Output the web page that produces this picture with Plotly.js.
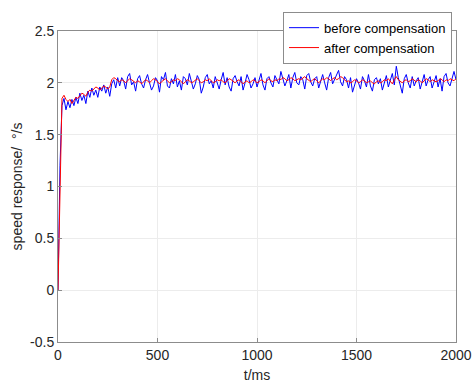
<!DOCTYPE html>
<html>
<head>
<meta charset="utf-8">
<script src="https://cdn.plot.ly/plotly-3.0.1.min.js"></script>
<style>html,body{margin:0;padding:0;background:#fff;}#chart{width:472px;height:383px;}</style>
</head>
<body>
<div id="chart"></div>
<script>
var blueStart = [0, 1.2, 1.78, 1.85, 1.74, 1.82, 1.76, 1.84, 1.78, 1.86,
  1.80, 1.90, 1.83, 1.88, 1.80, 1.92, 1.86, 1.95, 1.88, 1.93,
  1.86, 1.96, 1.92, 1.98, 1.90, 1.96, 1.87, 1.99, 2.03, 1.95, 2.05];
var blueRest = [
  1.97, 2.05, 2.02, 1.94, 2.06, 2.09, 1.98, 2.01, 1.92, 2.04,
  2.07, 1.99, 1.95, 2.03, 2.08, 2.00, 1.93, 1.97, 2.05, 2.02,
  1.91, 2.06, 2.03, 2.10, 1.97, 1.95, 2.04, 1.99, 2.08, 1.96,
  2.02, 1.93, 2.06, 2.04, 1.98, 2.09, 2.01, 1.94, 1.99, 2.07,
  2.03, 1.90, 1.96, 2.05, 2.08, 1.99, 2.02, 1.95, 2.06, 2.00,
  1.94, 2.03, 2.10, 1.98, 2.05, 1.96, 1.92, 2.04, 2.07, 2.01,
  1.97, 2.06, 1.93, 2.00, 2.08, 2.03, 1.95, 1.99, 2.05, 1.96,
  2.02, 2.09, 1.98, 1.93, 2.04, 2.06, 2.00, 1.96, 2.07, 2.03,
  1.99, 2.11, 2.04, 1.97, 2.02, 2.08, 1.95, 2.05, 2.10, 2.00,
  1.98, 2.06, 2.03, 1.94, 2.07, 2.09, 2.01, 1.97, 2.04, 2.06,
  1.95, 2.02, 2.08, 2.00, 1.93, 2.05, 2.10, 1.99, 2.04, 2.07,
  2.12, 2.01, 1.97, 2.06, 2.03, 1.95, 2.05, 1.91, 1.98, 2.04,
  2.00, 1.94, 2.06, 2.02, 1.96, 2.08, 1.97, 1.92, 2.03, 2.05,
  1.99, 2.04, 1.93, 2.01, 2.07, 1.96, 2.03, 2.09, 1.98, 2.16,
  2.05, 1.96, 1.90, 2.04, 2.08, 2.00, 1.95, 2.06, 1.97, 2.02,
  2.05, 1.94, 2.00, 2.08, 1.97, 2.03, 2.06, 1.95, 2.01, 2.07,
  1.96, 2.04, 1.92, 2.06, 2.09, 2.00, 1.97, 2.05, 2.11, 2.03];
var redStart = [0, 1.1, 1.85, 1.88, 1.84, 1.82, 1.84, 1.80, 1.83, 1.86,
  1.85, 1.88, 1.90, 1.89, 1.87, 1.91, 1.93, 1.92, 1.94, 1.96,
  1.95, 1.93, 1.95, 1.97, 1.96, 1.94, 1.96, 2.03, 2.05, 2.04, 2.02];
var redRest = [
  2.01, 2.03, 2.02, 2.00, 2.02, 2.04, 2.03, 2.01, 2.00, 2.02,
  2.01, 1.99, 2.01, 2.03, 2.02, 2.00, 2.02, 2.04, 2.03, 2.01,
  1.99, 2.01, 2.03, 2.04, 2.02, 2.00, 2.01, 2.03, 2.02, 2.04,
  2.03, 2.01, 1.99, 2.01, 2.03, 2.02, 2.00, 2.01, 2.03, 2.04,
  2.02, 2.00, 2.01, 2.03, 2.02, 2.04, 2.02, 2.00, 2.01, 2.03,
  2.02, 2.03, 2.01, 2.00, 2.02, 2.04, 2.03, 2.01, 2.00, 2.02,
  2.03, 2.01, 1.99, 2.01, 2.02, 2.00, 2.01, 2.03, 2.02, 2.00,
  2.01, 2.03, 2.02, 2.00, 2.02, 2.04, 2.02, 2.01, 2.03, 2.02,
  2.04, 2.03, 2.05, 2.04, 2.02, 2.03, 2.05, 2.04, 2.02, 2.03,
  2.04, 2.03, 2.05, 2.06, 2.04, 2.02, 2.01, 2.03, 2.04, 2.02,
  2.00, 2.02, 2.04, 2.03, 2.05, 2.04, 2.02, 2.04, 2.05, 2.03,
  2.04, 2.06, 2.05, 2.03, 2.01, 2.02, 2.00, 2.01, 2.03, 2.02,
  2.00, 2.01, 2.03, 2.02, 2.00, 2.01, 2.02, 2.00, 1.99, 2.01,
  2.02, 2.00, 2.01, 2.03, 2.02, 2.04, 2.01, 1.99, 2.03, 2.06,
  2.03, 2.01, 2.00, 2.02, 2.03, 2.01, 2.02, 2.04, 2.02, 2.01,
  2.03, 2.02, 2.00, 2.02, 2.04, 2.03, 2.01, 2.03, 2.02, 2.01,
  2.02, 2.04, 2.03, 2.01, 2.03, 2.02, 2.04, 2.03, 2.02, 2.04];
var before = blueStart.concat(blueRest);
var after = redStart.concat(redRest);
var sampleMs = 10;
var time = before.map(function (_, i) { return i * sampleMs; });
var xTicks = [0, 500, 1000, 1500, 2000];
var yTicks = [-0.5, 0, 0.5, 1, 1.5, 2, 2.5];
var yTickText = ['-0.5', '0', '0.5', '1', '1.5', '2', '2.5'];

var traces = [
  {x: time, y: before, type: 'scatter', mode: 'lines', name: 'before compensation',
   line: {color: '#0000ff', width: 1}},
  {x: time, y: after, type: 'scatter', mode: 'lines', name: 'after compensation',
   line: {color: '#ff0000', width: 1}}
];
var axisCommon = {
  showline: true, mirror: true, linecolor: '#8c8c8c', linewidth: 1,
  showgrid: true, gridcolor: '#ececec', gridwidth: 1,
  ticks: 'inside', ticklen: 4, tickcolor: '#8c8c8c',
  zeroline: false, ticklabeloverflow: 'allow',
  tickfont: {size: 14, color: '#262626'}
};
var layout = {
  width: 472, height: 383,
  margin: {l: 58, r: 16, t: 28, b: 41},
  paper_bgcolor: '#ffffff', plot_bgcolor: '#ffffff',
  font: {family: 'Liberation Sans, Arial, sans-serif', size: 14, color: '#262626'},
  showlegend: true,
  legend: {x: 0.99, xanchor: 'right', y: 1.062, yanchor: 'top',
    bgcolor: '#ffffff', bordercolor: '#8c8c8c', borderwidth: 1,
    font: {size: 13, color: '#000000'}, tracegroupgap: 0},
  xaxis: Object.assign({}, axisCommon, {
    range: [0, 2000], tickvals: xTicks, ticktext: xTicks.map(String),
    title: {text: 't/ms', standoff: 8, font: {size: 14, color: '#262626'}}
  }),
  yaxis: Object.assign({}, axisCommon, {
    range: [-0.5, 2.5], tickvals: yTicks, ticktext: yTickText,
    title: {text: 'speed response/  °/s', standoff: 4, font: {size: 14, color: '#262626'}}
  })
};
Plotly.newPlot('chart', traces, layout, {displayModeBar: false, staticPlot: true});
</script>
</body>
</html>
